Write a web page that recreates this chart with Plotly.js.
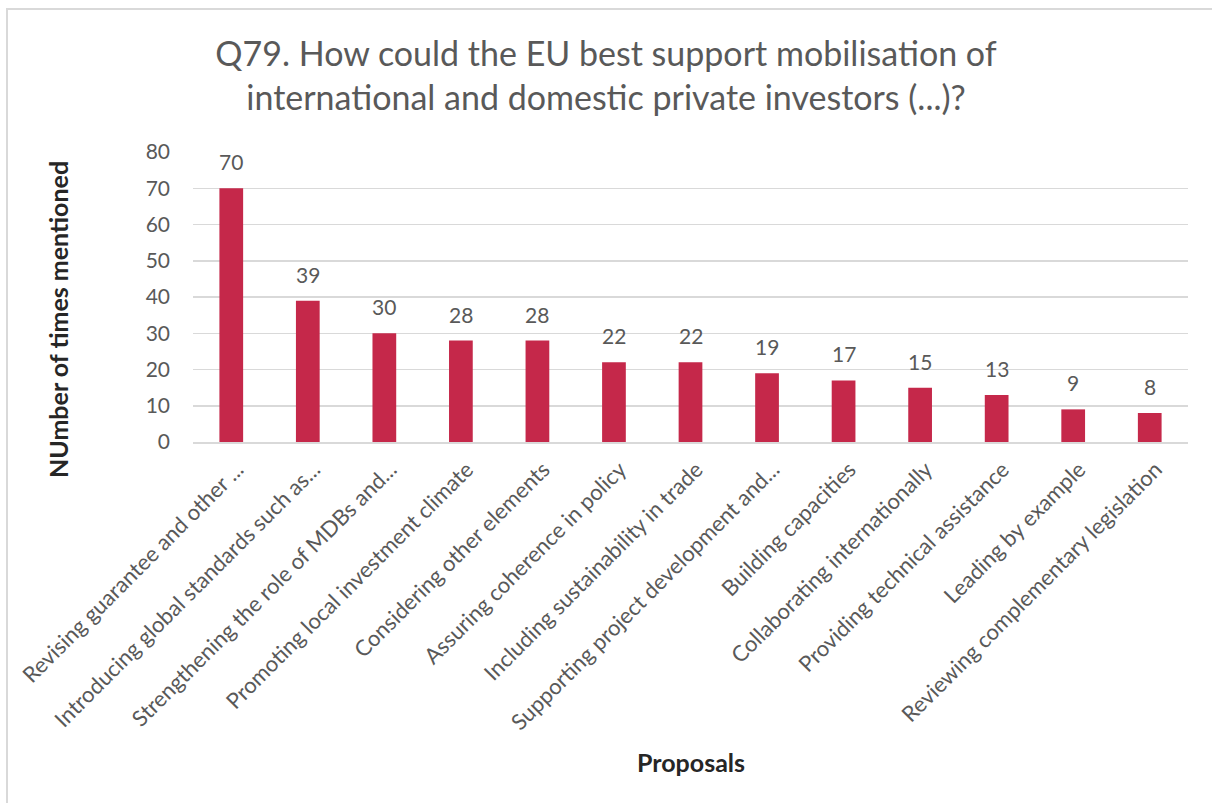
<!DOCTYPE html>
<html>
<head>
<meta charset="utf-8">
<script src="https://cdn.plot.ly/plotly-3.0.1.min.js"></script>
<style>
  html, body { margin: 0; padding: 0; background: #fff; overflow: hidden; }
  #chart { width: 1212px; height: 803px; }
  #frame { position: absolute; left: 6px; top: 8px; width: 1300px; height: 900px;
           border-left: 2px solid #d9d9d9; border-top: 2px solid #d9d9d9; pointer-events: none; }
</style>
</head>
<body>
<div id="chart"></div>
<div id="frame"></div>
<script>
const categories = [
  "Revising guarantee and other ...",
  "Introducing global standards such as...",
  "Strengthening the role of MDBs and...",
  "Promoting local investment climate",
  "Considering other elements",
  "Assuring coherence in policy",
  "Including sustainability in trade",
  "Supporting project development and...",
  "Building capacities",
  "Collaborating internationally",
  "Providing technical assistance",
  "Leading by example",
  "Reviewing complementary legislation"
];
const mentions = [70, 39, 30, 28, 28, 22, 22, 19, 17, 15, 13, 9, 8];
const yTicks = [0, 10, 20, 30, 40, 50, 60, 70, 80];

const FONT = "Lato, 'Open Sans', sans-serif";
const GREY = "#595959";
const DARK = "#262626";

const trace = {
  type: "bar",
  x: categories,
  y: mentions,
  marker: { color: "#C5284A" },
  hoverinfo: "x+y"
};

const annotations = categories.map((c, i) => ({
  x: c, y: mentions[i], xref: "x", yref: "y",
  text: String(mentions[i]), showarrow: false,
  yanchor: "bottom", yshift: 12,
  font: { family: FONT, size: 21, color: GREY }
}));

annotations.push({
  text: "<b>Proposals</b>", showarrow: false,
  xref: "paper", x: 0.5, xanchor: "center",
  yref: "paper", y: (442 - 762) / 290, yanchor: "middle",
  font: { family: FONT, size: 25, color: DARK }
});
annotations.push({
  text: "<b>NUmber of times mentioned</b>", showarrow: false, textangle: -90,
  xref: "paper", x: (58 - 193) / 995, xanchor: "center",
  yref: "paper", y: (442 - 320) / 290, yanchor: "middle",
  font: { family: FONT, size: 25, color: DARK }
});

const layout = {
  width: 1212, height: 803,
  margin: { l: 193, r: 24, t: 152, b: 361 },
  paper_bgcolor: "#fff", plot_bgcolor: "#fff",
  bargap: 0.69,
  showlegend: false,
  title: {
    text: "Q79. How could the EU best support mobilisation of<br>international and domestic private investors (...)?",
    font: { family: FONT, size: 34, color: GREY },
    x: 0.5, xref: "container", xanchor: "center",
    y: 1 - 66 / 803, yref: "container", yanchor: "middle"
  },
  xaxis: {
    type: "category",
    tickangle: -45,
    tickfont: { family: FONT, size: 22, color: GREY },
    ticks: "", showgrid: false,
    showline: true, linecolor: "#d9d9d9", linewidth: 2,
    ticklabelstandoff: 4,
    ticklabelshift: 6,
    automargin: false
  },
  yaxis: {
    range: [0, 80],
    tickvals: yTicks,
    ticktext: yTicks.map(String),
    tickfont: { family: FONT, size: 21, color: GREY },
    showgrid: true, gridcolor: "#d9d9d9", gridwidth: 1.5,
    zeroline: false, showline: false, ticks: "",
    ticklabelstandoff: 22,
    automargin: false
  },
  annotations: annotations
};

Plotly.newPlot("chart", [trace], layout, { displayModeBar: false, staticPlot: true });
</script>
</body>
</html>
